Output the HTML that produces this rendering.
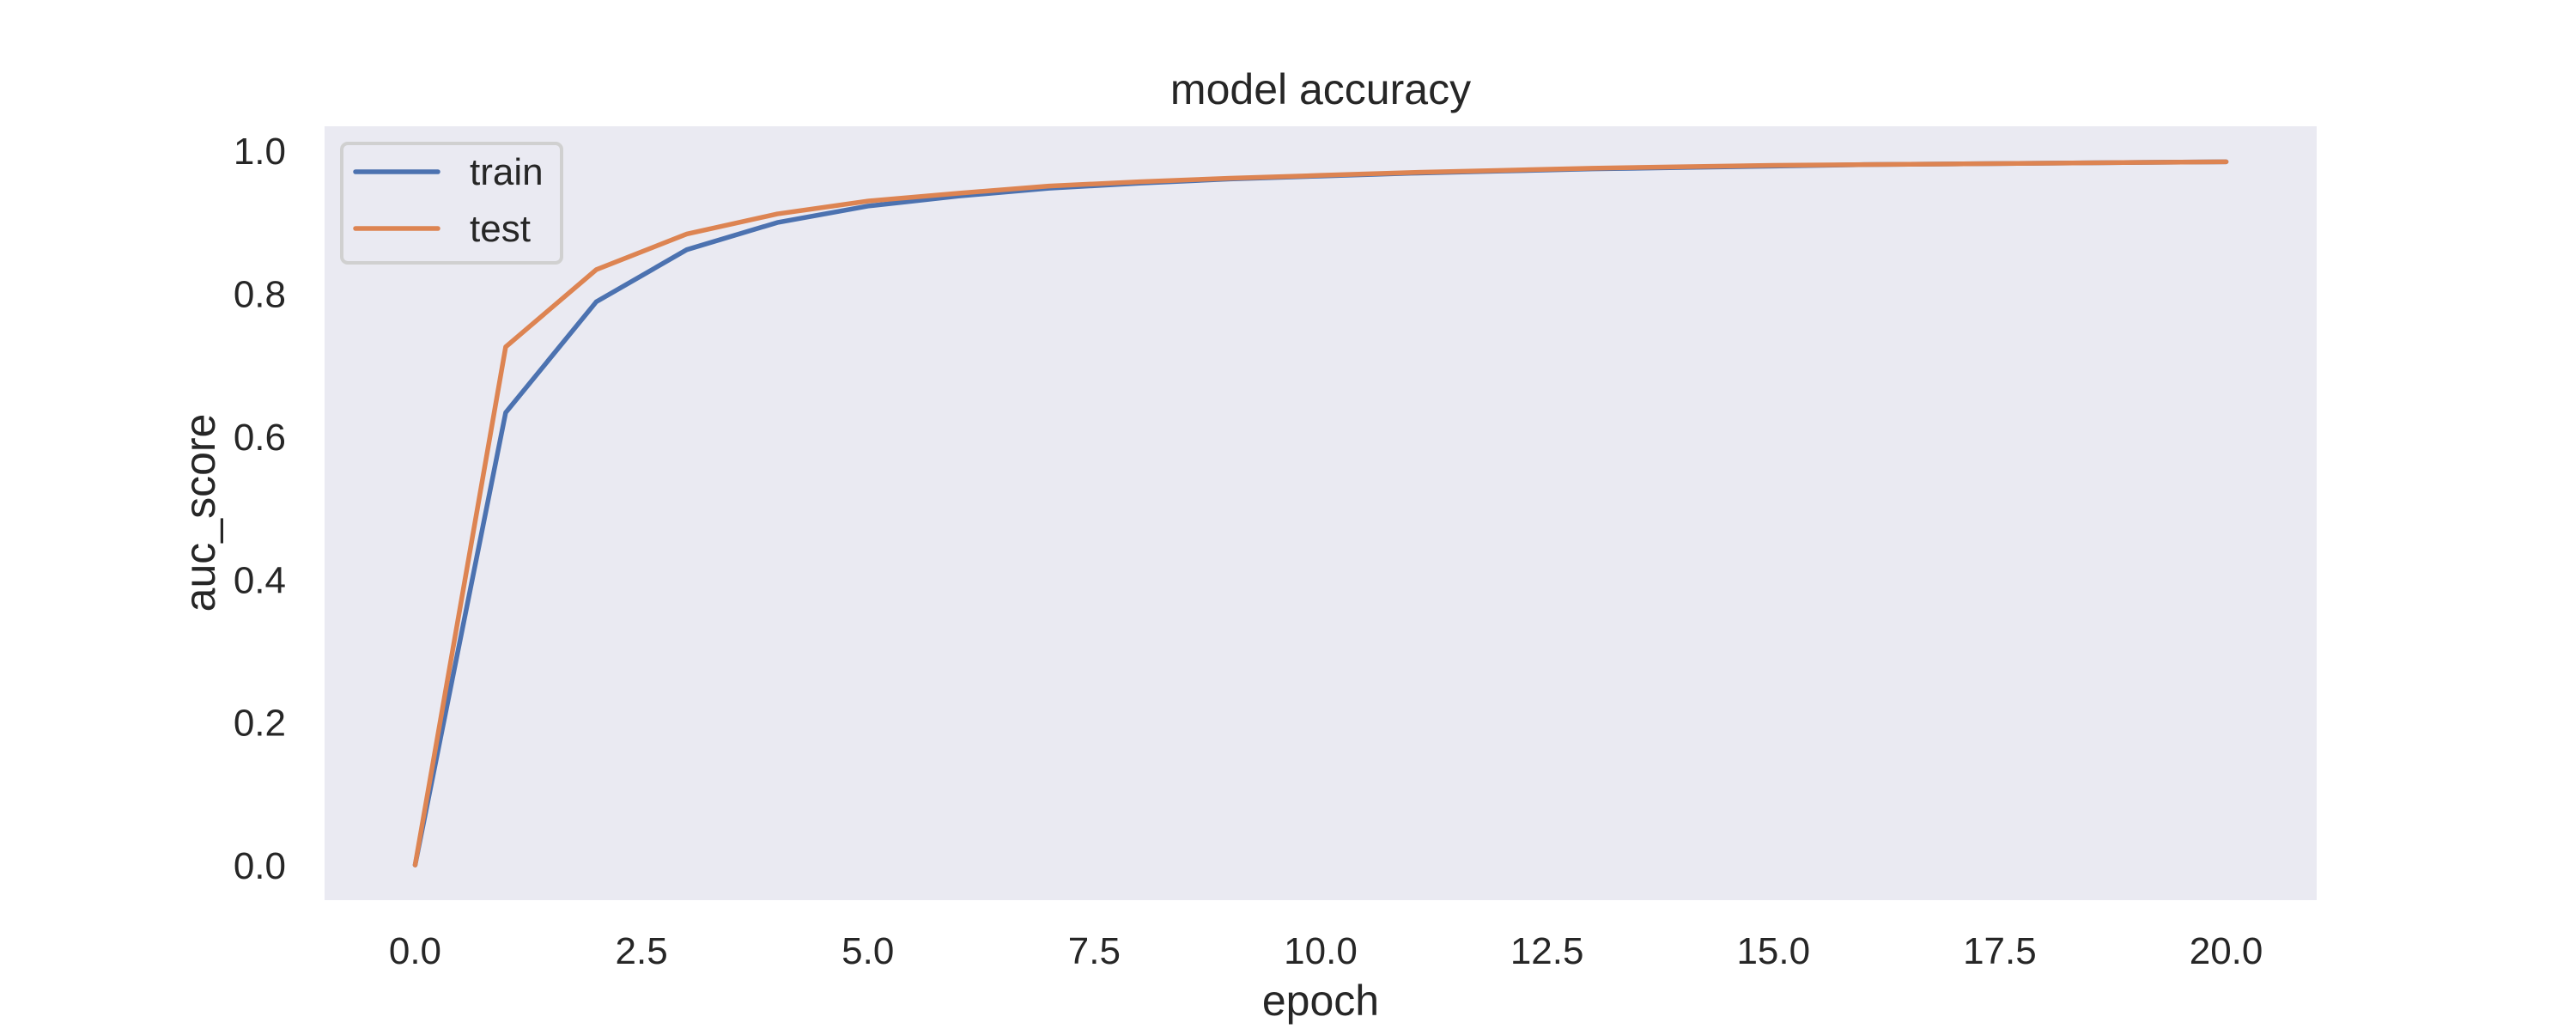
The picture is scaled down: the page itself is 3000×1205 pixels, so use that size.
<!DOCTYPE html>
<html><head><meta charset="utf-8"><style>
body{margin:0;background:#fff}
svg text{font-family:"Liberation Sans",Arial,sans-serif;fill:#262626}
</style></head><body>
<svg id="chart" width="3000" height="1200" viewBox="0 0 3000 1200" xmlns="http://www.w3.org/2000/svg">
<rect x="0" y="0" width="3000" height="1200" fill="#fff"/>
<rect x="378" y="147" width="2320" height="901" fill="#eaeaf2"/>
<g id="xticks"></g>
<g id="yticks"></g>
<g id="series"></g>
<text x="1538" y="121" font-size="50" text-anchor="middle">model accuracy</text>
<text x="1538" y="1182" font-size="50" text-anchor="middle">epoch</text>
<text x="0" y="0" font-size="50" text-anchor="middle" transform="translate(250,597) rotate(-90)">auc_score</text>
<g>
<rect x="398" y="167" width="256" height="139" rx="7" fill="#eaeaf2" stroke="#d0d0d0" stroke-width="4"/>
<line x1="414" y1="200" x2="510" y2="200" stroke="#4c72b0" stroke-width="5.5" stroke-linecap="round"/>
<text x="547" y="215" font-size="44">train</text>
<line x1="414" y1="266" x2="510" y2="266" stroke="#dd8452" stroke-width="5.5" stroke-linecap="round"/>
<text x="547" y="281" font-size="44">test</text>
</g>
</svg>
<script>
const epochs = [0,1,2,3,4,5,6,7,8,9,10,11,12,13,14,15,16,17,18,19,20];
const trainValues = [0,0.633,0.788,0.861,0.899,0.922,0.936,0.947,0.954,0.960,0.964,0.968,0.971,0.974,0.976,0.978,0.980,0.981,0.982,0.983,0.984];
const testValues = [0,0.725,0.833,0.883,0.911,0.929,0.940,0.950,0.956,0.961,0.965,0.969,0.972,0.975,0.977,0.979,0.980,0.981,0.982,0.983,0.984];
const xTickValues = [0,2.5,5,7.5,10,12.5,15,17.5,20];
const xTickLabels = ["0.0","2.5","5.0","7.5","10.0","12.5","15.0","17.5","20.0"];
const yTickValues = [0,0.2,0.4,0.6,0.8,1.0];
const yTickLabels = ["0.0","0.2","0.4","0.6","0.8","1.0"];

const NS = "http://www.w3.org/2000/svg";
const X0=378, X1=2698, Y0=1048, Y1=147;
const xMin=-1, xMax=21, yMin=-0.0492, yMax=1.0337;
function sx(v){return X0+(v-xMin)/(xMax-xMin)*(X1-X0);}
function sy(v){return Y0-(v-yMin)/(yMax-yMin)*(Y0-Y1);}

const xg=document.getElementById('xticks');
xTickValues.forEach((v,i)=>{
  const t=document.createElementNS(NS,'text');
  t.setAttribute('x',sx(v));t.setAttribute('y',1122);
  t.setAttribute('font-size','44');t.setAttribute('text-anchor','middle');
  t.textContent=xTickLabels[i];
  
  
  xg.appendChild(t);
});
const yg=document.getElementById('yticks');
yTickValues.forEach((v,i)=>{
  const t=document.createElementNS(NS,'text');
  t.setAttribute('x',333);t.setAttribute('y',sy(v)+16);
  t.setAttribute('font-size','44');t.setAttribute('text-anchor','end');
  t.textContent=yTickLabels[i];
  
  
  yg.appendChild(t);
});
const sg=document.getElementById('series');
function line(vals,color,name){
  const p=document.createElementNS(NS,'polyline');
  p.setAttribute('points',epochs.map((e,i)=>sx(e)+','+sy(vals[i])).join(' '));
  p.setAttribute('fill','none');p.setAttribute('stroke',color);
  p.setAttribute('stroke-width','5.5');p.setAttribute('stroke-linecap','round');p.setAttribute('stroke-linejoin','round');
  
  
  sg.appendChild(p);
}
line(trainValues,'#4c72b0','train-line');
line(testValues,'#dd8452','test-line');
</script>
</body></html>
